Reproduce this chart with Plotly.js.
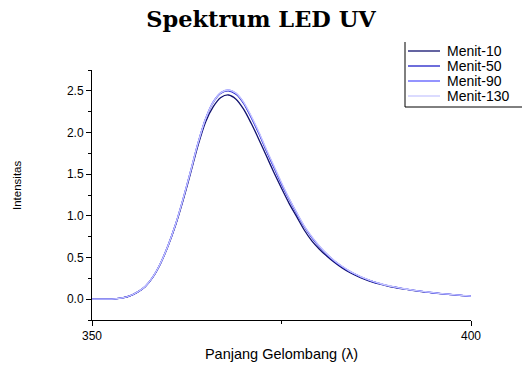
<!DOCTYPE html>
<html>
<head>
<meta charset="utf-8">
<script src="https://cdn.plot.ly/plotly-3.0.1.min.js"></script>
<style>
  html, body { margin: 0; padding: 0; background: #ffffff; }
  #chart { width: 522px; height: 365px; }
</style>
</head>
<body>
<div id="chart"></div>
<script>
// Wavelength grid (nm)
const wavelength = [
  350, 351, 352, 353, 354, 355, 356, 357, 358, 359,
  360, 361, 362, 363, 364, 365, 366, 367, 368, 369,
  370, 371, 372, 373, 374, 375, 376, 377, 378, 379,
  380, 381, 382, 383, 384, 385, 386, 387, 388, 389,
  390, 391, 392, 393, 394, 395, 396, 397, 398, 399, 400
];

// Measured intensity for each time step
const menit10 = [
  0.000, 0.000, 0.000, 0.003, 0.015, 0.040, 0.085, 0.150, 0.260, 0.420,
  0.630, 0.880, 1.180, 1.510, 1.850, 2.130, 2.310, 2.420, 2.450, 2.400,
  2.280, 2.110, 1.920, 1.720, 1.520, 1.330, 1.150, 0.990, 0.830, 0.700,
  0.600, 0.515, 0.440, 0.375, 0.320, 0.275, 0.237, 0.205, 0.180, 0.158,
  0.140, 0.124, 0.110, 0.097, 0.086, 0.076, 0.066, 0.058, 0.050, 0.042, 0.034
];
const menit50 = [
  0.000, 0.000, 0.000, 0.003, 0.015, 0.040, 0.085, 0.150, 0.262, 0.423,
  0.635, 0.890, 1.195, 1.530, 1.875, 2.165, 2.360, 2.470, 2.500, 2.460,
  2.350, 2.180, 1.990, 1.780, 1.580, 1.380, 1.200, 1.030, 0.870, 0.740,
  0.630, 0.535, 0.455, 0.390, 0.333, 0.287, 0.247, 0.213, 0.186, 0.162,
  0.143, 0.126, 0.112, 0.099, 0.088, 0.077, 0.067, 0.059, 0.051, 0.043, 0.035
];
const menit90 = [
  0.000, 0.000, 0.000, 0.003, 0.015, 0.041, 0.086, 0.152, 0.263, 0.425,
  0.637, 0.893, 1.200, 1.535, 1.880, 2.170, 2.370, 2.480, 2.510, 2.470,
  2.360, 2.190, 2.000, 1.790, 1.590, 1.390, 1.205, 1.035, 0.875, 0.745,
  0.634, 0.538, 0.458, 0.392, 0.335, 0.288, 0.248, 0.214, 0.187, 0.163,
  0.144, 0.127, 0.112, 0.099, 0.088, 0.077, 0.067, 0.059, 0.051, 0.043, 0.035
];
const menit130 = [
  0.000, 0.000, 0.000, 0.003, 0.015, 0.041, 0.086, 0.152, 0.263, 0.424,
  0.636, 0.892, 1.198, 1.533, 1.878, 2.168, 2.365, 2.478, 2.510, 2.472,
  2.365, 2.200, 2.010, 1.800, 1.600, 1.400, 1.210, 1.040, 0.880, 0.750,
  0.638, 0.541, 0.460, 0.394, 0.337, 0.290, 0.249, 0.215, 0.188, 0.164,
  0.145, 0.128, 0.113, 0.100, 0.089, 0.078, 0.068, 0.060, 0.052, 0.044, 0.036
];

const seriesNames = ['Menit-10', 'Menit-50', 'Menit-90', 'Menit-130'];
const seriesData = [menit10, menit50, menit90, menit130];
const seriesColors = ['#10106e', '#2020c8', '#5a5aff', '#c8c8ff'];

const xTickVals = [350, 400];
const xTickText = ['350', '400'];
const yTickVals = [0, 0.5, 1.0, 1.5, 2.0, 2.5];

const FONT = 'Liberation Sans, Arial, sans-serif';

const traces = seriesNames.map((name, i) => ({
  type: 'scatter',
  mode: 'lines',
  name: name,
  x: wavelength,
  y: seriesData[i],
  line: { color: seriesColors[i], width: 1.3, shape: 'spline', smoothing: 0.8 },
  showlegend: false,
  hoverinfo: 'x+y+name'
}));

// Plot area in pixels: x 92..471, y 70..320
const W = 522, H = 365;
const L = 92, R = 471, T = 70, B = 320;
const px = v => (v - L) / (R - L);
const py = v => (B - v) / (B - T);

// Legend block (top-right, running past the page edge)
const legendRows = [51, 66, 81, 96];
const shapes = [
  { type: 'line', xref: 'paper', yref: 'paper', x0: px(405), x1: px(405), y0: py(42), y1: py(107),
    line: { color: '#000000', width: 1 } },
  { type: 'line', xref: 'paper', yref: 'paper', x0: px(405), x1: px(530), y0: py(107), y1: py(107),
    line: { color: '#000000', width: 1 } }
];
const annotations = [];
seriesNames.forEach((name, i) => {
  shapes.push({
    type: 'line', xref: 'paper', yref: 'paper',
    x0: px(408), x1: px(440), y0: py(legendRows[i]), y1: py(legendRows[i]),
    line: { color: seriesColors[i], width: 1.3 }
  });
  annotations.push({
    xref: 'paper', yref: 'paper', x: px(445), y: py(legendRows[i]),
    xanchor: 'left', yanchor: 'middle', showarrow: false,
    text: name, font: { family: FONT, size: 14, color: '#000000' }
  });
});

// Y-axis title, placed as a rotated label left of the tick labels
annotations.push({
  xref: 'paper', yref: 'paper', x: px(17), y: py(186),
  xanchor: 'center', yanchor: 'middle', showarrow: false, textangle: -90,
  text: 'Intensitas', font: { family: FONT, size: 11.5, color: '#000000' }
});

const layout = {
  width: W, height: H,
  margin: { l: L, r: W - R, t: T, b: H - B, pad: 0, autoexpand: false },
  paper_bgcolor: '#ffffff',
  plot_bgcolor: '#ffffff',
  showlegend: false,
  title: {
    text: '<b>Spektrum LED UV</b>',
    font: { family: 'DejaVu Serif, serif', size: 22.5, color: '#000000' },
    x: 0.5, xref: 'container', xanchor: 'center',
    y: 1 - 19 / H, yref: 'container', yanchor: 'middle'
  },
  xaxis: {
    range: [350, 400],
    tickmode: 'array', tickvals: xTickVals, ticktext: xTickText,
    ticks: 'outside', ticklen: 5, tickwidth: 1, tickcolor: '#000000',
    minor: { tick0: 350, dtick: 25, ticks: 'outside', ticklen: 3, tickwidth: 1, tickcolor: '#000000' },
    showline: true, linecolor: '#000000', linewidth: 1,
    showgrid: false, zeroline: false,
    tickfont: { family: FONT, size: 12, color: '#000000' },
    title: { text: 'Panjang Gelombang (λ)', font: { family: FONT, size: 14.5, color: '#000000' }, standoff: 6 },
    automargin: false
  },
  yaxis: {
    range: [-0.25, 2.75],
    tickmode: 'array', tickvals: yTickVals, tickformat: '.1f',
    ticks: 'outside', ticklen: 5, tickwidth: 1, tickcolor: '#000000',
    minor: { tick0: 0, dtick: 0.25, ticks: 'outside', ticklen: 3, tickwidth: 1, tickcolor: '#000000' },
    showline: true, linecolor: '#000000', linewidth: 1,
    showgrid: false, zeroline: false,
    tickfont: { family: FONT, size: 12, color: '#000000' },
    automargin: false
  },
  shapes: shapes,
  annotations: annotations
};

Plotly.newPlot('chart', traces, layout, { staticPlot: true, displayModeBar: false });
</script>
</body>
</html>
